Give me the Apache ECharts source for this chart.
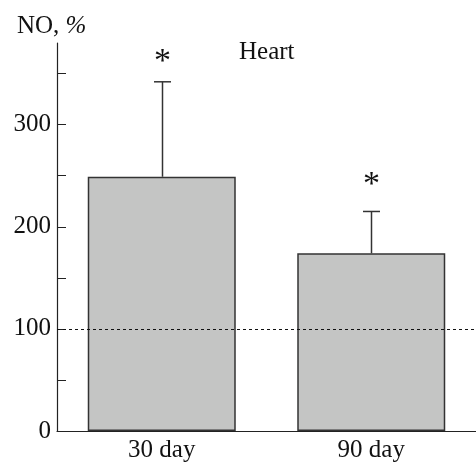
<!DOCTYPE html>
<html>
<head>
<meta charset="utf-8">
<script src="https://cdn.jsdelivr.net/npm/echarts@6/dist/echarts.min.js"></script>
<style>html,body{margin:0;padding:0;background:#fff}#c{width:476px;height:464px}</style>
</head>
<body>
<div id="c"></div>
<script>
var categories = ['30 day', '90 day'];
var values = [249, 174];
var errorTop = [342, 215];
var starValues = [361, 241];
var yTickValues = [0, 50, 100, 150, 200, 250, 300, 350];
var yLabelValues = [0, 100, 200, 300];
var refLevel = 100;

var font = 'Liberation Serif';
var chart = echarts.init(document.getElementById('c'));
chart.setOption({
  animation: false,
  backgroundColor: '#fff',
  grid: {left: 57, right: 0, top: 43, bottom: 33},
  title: [
    {text: '{a|NO, }{b|%}', left: 12, top: 9, textStyle: {fontWeight: 'normal', rich: {
      a: {fontFamily: font, fontSize: 25, fontWeight: 'normal', color: '#111'},
      b: {fontFamily: font, fontSize: 25, fontWeight: 'normal', fontStyle: 'italic', color: '#111'}
    }}},
    {text: 'Heart', left: 234, top: 35, textStyle: {fontFamily: font, fontSize: 25, fontWeight: 'normal', color: '#111'}}
  ],
  xAxis: {
    type: 'category',
    data: categories,
    axisLine: {lineStyle: {color: '#222', width: 1.2}},
    axisTick: {show: false},
    axisLabel: {fontFamily: font, fontSize: 25, color: '#111', margin: 7}
  },
  yAxis: {
    type: 'value',
    min: 0, max: 380,
    splitLine: {show: false},
    axisLine: {show: true, lineStyle: {color: '#222', width: 1.2}},
    axisTick: {show: true, inside: true, length: 9, customValues: yTickValues, lineStyle: {color: '#222'}},
    axisLabel: {customValues: yLabelValues, fontFamily: font, fontSize: 25, color: '#111', margin: 6}
  },
  series: [
    {
      type: 'bar',
      data: values,
      barWidth: 148,
      itemStyle: {color: '#c4c5c4', borderColor: '#333', borderWidth: 1.5},
      markLine: {
        silent: true, symbol: 'none',
        label: {show: false},
        lineStyle: {type: [3, 3], color: '#111', width: 1},
        data: [{yAxis: refLevel}]
      },
      z: 2
    },
    {
      type: 'custom',
      data: categories.map(function (c, i) { return [i, values[i], errorTop[i], starValues[i]]; }),
      renderItem: function (params, api) {
        var base = api.coord([api.value(0), api.value(1)]);
        var top = api.coord([api.value(0), api.value(2)]);
        var star = api.coord([api.value(0), api.value(3)]);
        var x = Math.round(base[0]) + 0.5;
        return {
          type: 'group',
          children: [
            {type: 'line', shape: {x1: x, y1: base[1], x2: x, y2: top[1]}, style: {stroke: '#333', lineWidth: 1.5}},
            {type: 'line', shape: {x1: x - 8.5, y1: top[1], x2: x + 8.5, y2: top[1]}, style: {stroke: '#333', lineWidth: 1.5}},
            {type: 'text', x: x, y: star[1], style: {text: '*', fontFamily: font, fontSize: 34, fill: '#111', align: 'center', verticalAlign: 'middle'}}
          ]
        };
      },
      z: 1
    }
  ]
});
</script>
</body>
</html>
